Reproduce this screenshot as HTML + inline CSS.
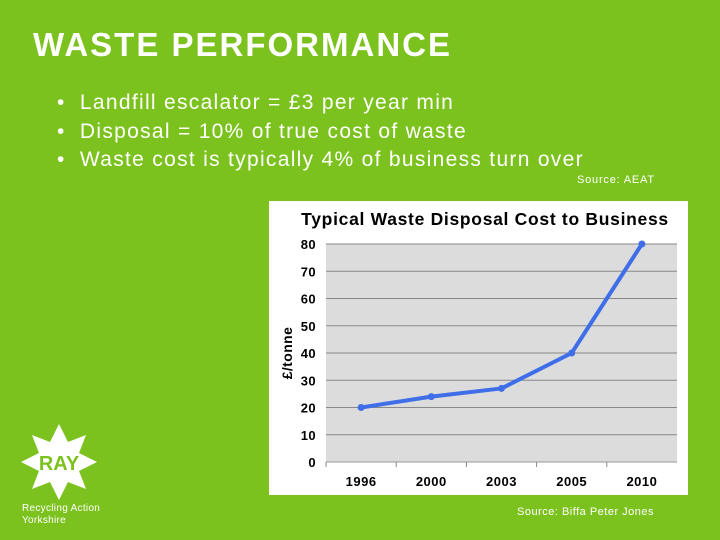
<!DOCTYPE html>
<html><head><meta charset="utf-8"><style>
body{margin:0;width:720px;height:540px;background:#7cc21f;position:relative;overflow:hidden;font-family:"Liberation Sans",sans-serif;color:#fff}
.t{position:absolute}
</style></head><body>
<div class="t" style="left:33px;top:26px;font-size:33px;font-weight:bold;letter-spacing:2px">WASTE PERFORMANCE</div>
<div class="t" style="left:57px;top:89px;font-size:21px;line-height:28.5px;letter-spacing:1.3px">
<div>•&nbsp; Landfill escalator = £3 per year min</div>
<div>•&nbsp; Disposal = 10% of true cost of waste</div>
<div>•&nbsp; Waste cost is typically 4% of business turn over</div></div>
<div class="t" style="left:577px;top:174px;font-size:11px;letter-spacing:0.8px">Source: AEAT</div>
<div class="t" style="left:517px;top:506px;font-size:11px;letter-spacing:0.5px">Source: Biffa Peter Jones</div>
<svg class="t" style="left:14px;top:420px" width="110" height="110">
<g fill="#fff" transform="translate(45,42)">
<polygon points="0,-38 9,-20 27,-27 20,-9 38,0 20,9 27,27 9,20 0,38 -9,20 -27,27 -20,9 -38,0 -20,-9 -27,-27 -9,-20"/>
<text x="0" y="8" text-anchor="middle" font-size="20" font-weight="bold" fill="#7cc21f" font-family="Liberation Sans">RAY</text>
</g>
<text x="8" y="91" font-size="10" fill="#fff" letter-spacing="0.3">Recycling Action</text>
<text x="8" y="103" font-size="10" fill="#fff" letter-spacing="0.3">Yorkshire</text>
</svg>
<svg class="t" id="chart" style="left:0;top:0" width="720" height="540"></svg>
<script>
const categories=["1996","2000","2003","2005","2010"];
const values=[20,24,27,40,80];
const yTicks=[0,10,20,30,40,50,60,70,80];
const svg=document.getElementById('chart');const NS="http://www.w3.org/2000/svg";
function mk(t,a,txt){const e=document.createElementNS(NS,t);for(const k in a)e.setAttribute(k,a[k]);if(txt!=null)e.textContent=txt;svg.appendChild(e);return e;}
const L=326,R=677,T=244,B=462,yMax=80;
const y=v=>B-(v/yMax)*(B-T);const bw=(R-L)/categories.length;const x=i=>L+bw*(i+0.5);
let e=mk('rect',{x:269,y:201,width:419,height:294,fill:'#fff'});

e=mk('rect',{x:L,y:T,width:R-L,height:B-T,fill:'#dcdcdc'});

e=mk('text',{x:485,y:225,'text-anchor':'middle','font-size':17.5,'font-weight':'bold',fill:'#000','letter-spacing':0.7},'Typical Waste Disposal Cost to Business');

yTicks.forEach(t=>{
 const g=mk('line',{x1:L,x2:R,y1:y(t),y2:y(t),stroke:t===0?'#999':'#888','stroke-width':1});
 
 const l=mk('text',{x:316,y:y(t)+5,'text-anchor':'end','font-size':13,'font-weight':'bold',fill:'#000','letter-spacing':0.4},t);
 
});
categories.forEach((c,i)=>{
 const k=mk('line',{x1:L+bw*i,x2:L+bw*i,y1:B,y2:B+5,stroke:'#888'});
 
 const l=mk('text',{x:x(i),y:486,'text-anchor':'middle','font-size':13,'font-weight':'bold',fill:'#000','letter-spacing':0.5},c);
 
});
e=mk('text',{x:0,y:0,transform:'translate(292,353) rotate(-90)','text-anchor':'middle','font-size':14,'font-weight':'bold',fill:'#000','letter-spacing':0.4},'£/tonne');

e=mk('polyline',{points:values.map((v,i)=>x(i)+','+y(v)).join(' '),fill:'none',stroke:'#3f6ee8','stroke-width':4,'stroke-linejoin':'round'});

values.forEach((v,i)=>{
 const p=mk('circle',{cx:x(i),cy:y(v),r:3.5,fill:'#3f6ee8'});
 
});
</script>
</body></html>
